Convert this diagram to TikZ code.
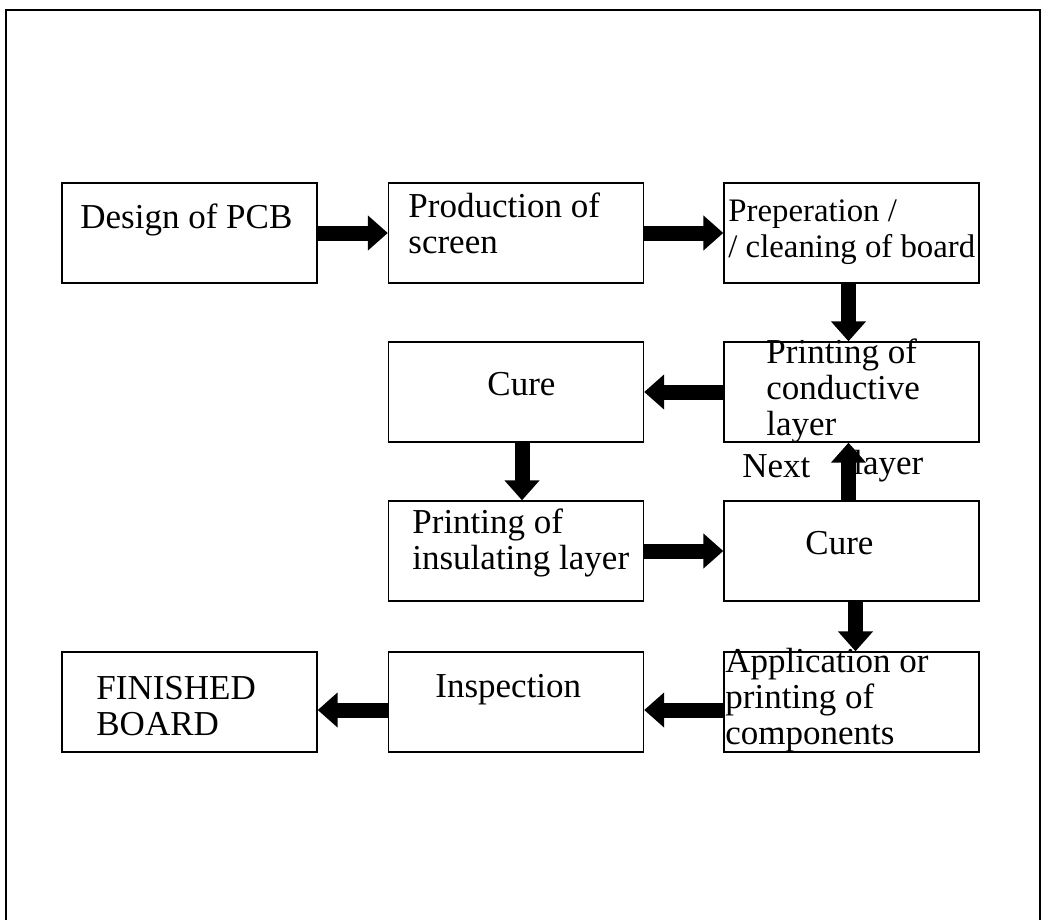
\documentclass[tikz,border=0pt]{standalone}
\usepackage{fontspec}
\setmainfont{Liberation Serif}
\usepackage{tikz}
\usetikzlibrary{arrows.meta}
\tikzstyle{sheet} = [x = 0.5pt, y = -0.5pt]
\tikzstyle{frameLine} = [color=black, line width=1pt]
\tikzstyle{stageStyle} = [draw=black, line width=0.7pt, minimum width=127.5pt, minimum height=50pt, inner sep=0pt]
\tikzstyle{stageText} = [anchor=west, align=left, inner sep=0pt, font=\fontsize{17.5}{18}\selectfont]
\tikzstyle{blockArrow} = [line width=7.5pt, -{Triangle[width=17pt, length=10pt]}]
\newcommand{\stageBox}[3]{\node [stageStyle] (#1) at (#2, #3) {};}
\newcommand{\stageLabel}[4]{\node [stageText] (#1) at (#2, #3) {#4};}

\begin{document}
\begin{tikzpicture}[sheet]
  \useasboundingbox (0,0) rectangle (1044,920);
  \draw [frameLine] (6,925) -- (6,10) -- (1040,10) -- (1040,925);

  % boxes
  \stageBox{design}{189.5}{233}
  \stageBox{screen}{516}{233}
  \stageBox{prep}{851.5}{233}
  \stageBox{cureA}{516}{392}
  \stageBox{conductive}{851.5}{392}
  \stageBox{insulating}{516}{551}
  \stageBox{cureB}{851.5}{551}
  \stageBox{finished}{189.5}{702}
  \stageBox{inspection}{516}{702}
  \stageBox{application}{851.5}{702}

  % texts
  \stageLabel{designText}{80}{220}{Design of PCB}
  \stageLabel{screenText}{408}{223}{Production of\\screen}
  \node [stageText, font=\fontsize{16.4}{18}\selectfont] (prepText) at (728, 232) {Preperation /\\/ cleaning of board};
  \stageLabel{cureAText}{487}{384}{Cure}
  \stageLabel{conductiveText}{766}{391}{Printing of\\conductive\\layer}
  \stageLabel{nextText}{742}{466}{Next}
  \stageLabel{layerText}{853}{466}{layer}
  \stageLabel{insulatingText}{412}{543}{Printing of\\insulating layer}
  \stageLabel{cureBText}{805}{543}{Cure}
  \stageLabel{applicationText}{725}{700}{Application or\\printing of\\components}
  \stageLabel{finishedText}{96}{706}{FINISHED\\BOARD}
  \stageLabel{inspectionText}{435}{690}{Inspection}

  % arrows
  \draw [blockArrow] (design.east) -- (screen.west);
  \draw [blockArrow] (screen.east) -- (prep.west);
  \draw [blockArrow] ([xshift=-1.5pt]prep.south) -- ([xshift=-1.5pt]conductive.north);
  \draw [blockArrow] (conductive.west) -- (cureA.east);
  \draw [blockArrow] ([xshift=3pt]cureA.south) -- ([xshift=3pt]insulating.north);
  \draw [blockArrow] (insulating.east) -- (cureB.west);
  \draw [blockArrow] ([xshift=-1.5pt]cureB.north) -- ([xshift=-1.5pt]conductive.south);
  \draw [blockArrow] ([xshift=2pt]cureB.south) -- ([xshift=2pt]application.north);
  \draw [blockArrow] ([yshift=-4pt]application.west) -- ([yshift=-4pt]inspection.east);
  \draw [blockArrow] ([yshift=-4pt]inspection.west) -- ([yshift=-4pt]finished.east);
\end{tikzpicture}
\end{document}
